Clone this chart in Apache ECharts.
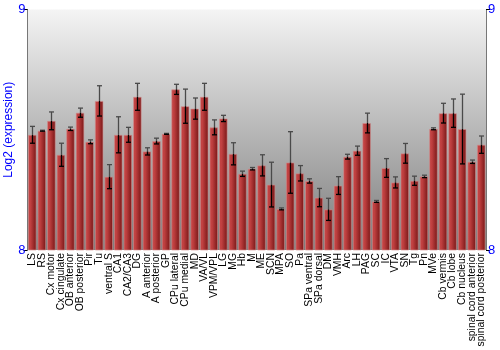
<!DOCTYPE html>
<html>
<head>
<meta charset="utf-8">
<script src="https://cdn.jsdelivr.net/npm/echarts@6/dist/echarts.min.js"></script>
<style>
html,body{margin:0;padding:0;background:#fff;}
#c{width:500px;height:350px;}
</style>
</head>
<body>
<div id="c"></div>
<script>
var categories = ["LS","RS","Cx motor","Cx cingulate","OB anterior","OB posterior","Pir","Tu","ventral S","CA1","CA2/CA3","DG","A anterior","A posterior","GP","CPu lateral","CPu medial","MD","VA/VL","VPM/VPL","LG","MG","Hb","M","ME","SCN","MPA","SO","Pa","SPa ventral","SPa dorsal","DM","VMH","Arc","LH","PAG","SC","IC","VTA","SN","Tg","Pn","MVe","Cb vermis","Cb lobe","Cb nucleus","spinal cord anterior","spinal cord posterior"];
var values = [8.479,8.496,8.537,8.396,8.504,8.571,8.450,8.620,8.305,8.479,8.479,8.637,8.410,8.453,8.483,8.668,8.598,8.588,8.637,8.510,8.547,8.400,8.317,8.338,8.352,8.272,8.171,8.364,8.319,8.287,8.218,8.169,8.268,8.388,8.413,8.528,8.202,8.341,8.281,8.402,8.288,8.306,8.504,8.569,8.569,8.503,8.367,8.438];
var errors = [0.035,0.002,0.037,0.048,0.007,0.019,0.008,0.063,0.050,0.075,0.031,0.056,0.015,0.012,0.002,0.021,0.071,0.044,0.056,0.031,0.013,0.046,0.011,0.005,0.044,0.093,0.004,0.128,0.032,0.009,0.038,0.046,0.037,0.010,0.019,0.041,0.004,0.039,0.023,0.041,0.019,0.005,0.004,0.041,0.059,0.145,0.007,0.036];
var yTicks = [8, 9];

var chart = echarts.init(document.getElementById('c'), null, {renderer:'canvas'});
var errData = values.map(function(v,i){ return [i, v, errors[i]]; });
var blue = '#0000ff';
var font = 'Liberation Sans, Arial, sans-serif';
var yAxisBase = {
  type:'value', min:yTicks[0], max:yTicks[1], interval:1,
  axisLine:{show:true, lineStyle:{color:'#777', width:1}},
  axisTick:{show:true, length:4, lineStyle:{color:'#000'}},
  axisLabel:{color:blue, fontSize:13, fontFamily:font, margin:2},
  splitLine:{show:false}
};
chart.setOption({
  animation:false,
  grid:{left:27.5, right:14, top:9.5, bottom:100, show:true, borderWidth:0, containLabel:false, outerBoundsMode:'none',
    backgroundColor:{type:'linear', x:0, y:0, x2:0, y2:1, colorStops:[{offset:0,color:'#f4f4f4'},{offset:1,color:'#7c7c7c'}]}},
  xAxis:{type:'category', data:categories,
    axisLine:{show:false}, axisTick:{show:false},
    axisLabel:{rotate:90, interval:0, fontSize:10.4, fontFamily:font, color:'#000', margin:3}},
  yAxis:[
    Object.assign({}, yAxisBase, {position:'left', name:'Log2 (expression)', nameLocation:'middle', nameGap:13, nameMoveOverlap:false,
      nameTextStyle:{color:blue, fontSize:12, fontFamily:font}}),
    Object.assign({}, yAxisBase, {position:'right'})
  ],
  series:[
    {type:'bar', data:values, barCategoryGap:'10%',
      itemStyle:{color:{type:'linear', x:0, y:0, x2:1, y2:0, colorStops:[
        {offset:0,color:'#c54545'},{offset:0.3,color:'#c04040'},{offset:1,color:'#751515'}]},
        borderColor:'rgba(210,140,140,0.6)', borderWidth:1}},
    {type:'custom', data:errData, z:10,
      renderItem:function(params, api){
        var x = api.value(0), v = api.value(1), e = api.value(2);
        var pTop = api.coord([x, v+e]);
        var pMid = api.coord([x, v]);
        var pBot = api.coord([x, v-e]);
        var cx = Math.round(pTop[0]) + 0.5;
        var hw = 2.5;
        return {type:'group', children:[
          {type:'line', shape:{x1:cx, y1:pTop[1], x2:cx, y2:pMid[1]}, style:{stroke:'#4a4a4a', lineWidth:1.3}},
          {type:'line', shape:{x1:cx-hw, y1:pTop[1], x2:cx+hw, y2:pTop[1]}, style:{stroke:'#4a4a4a', lineWidth:1.3}},
          {type:'line', shape:{x1:cx, y1:pMid[1], x2:cx, y2:pBot[1]}, style:{stroke:'#000', lineWidth:1.3}},
          {type:'line', shape:{x1:cx-hw, y1:pBot[1], x2:cx+hw, y2:pBot[1]}, style:{stroke:'#000', lineWidth:1.3}}
        ]};
      }}
  ]
});
</script>
</body>
</html>
